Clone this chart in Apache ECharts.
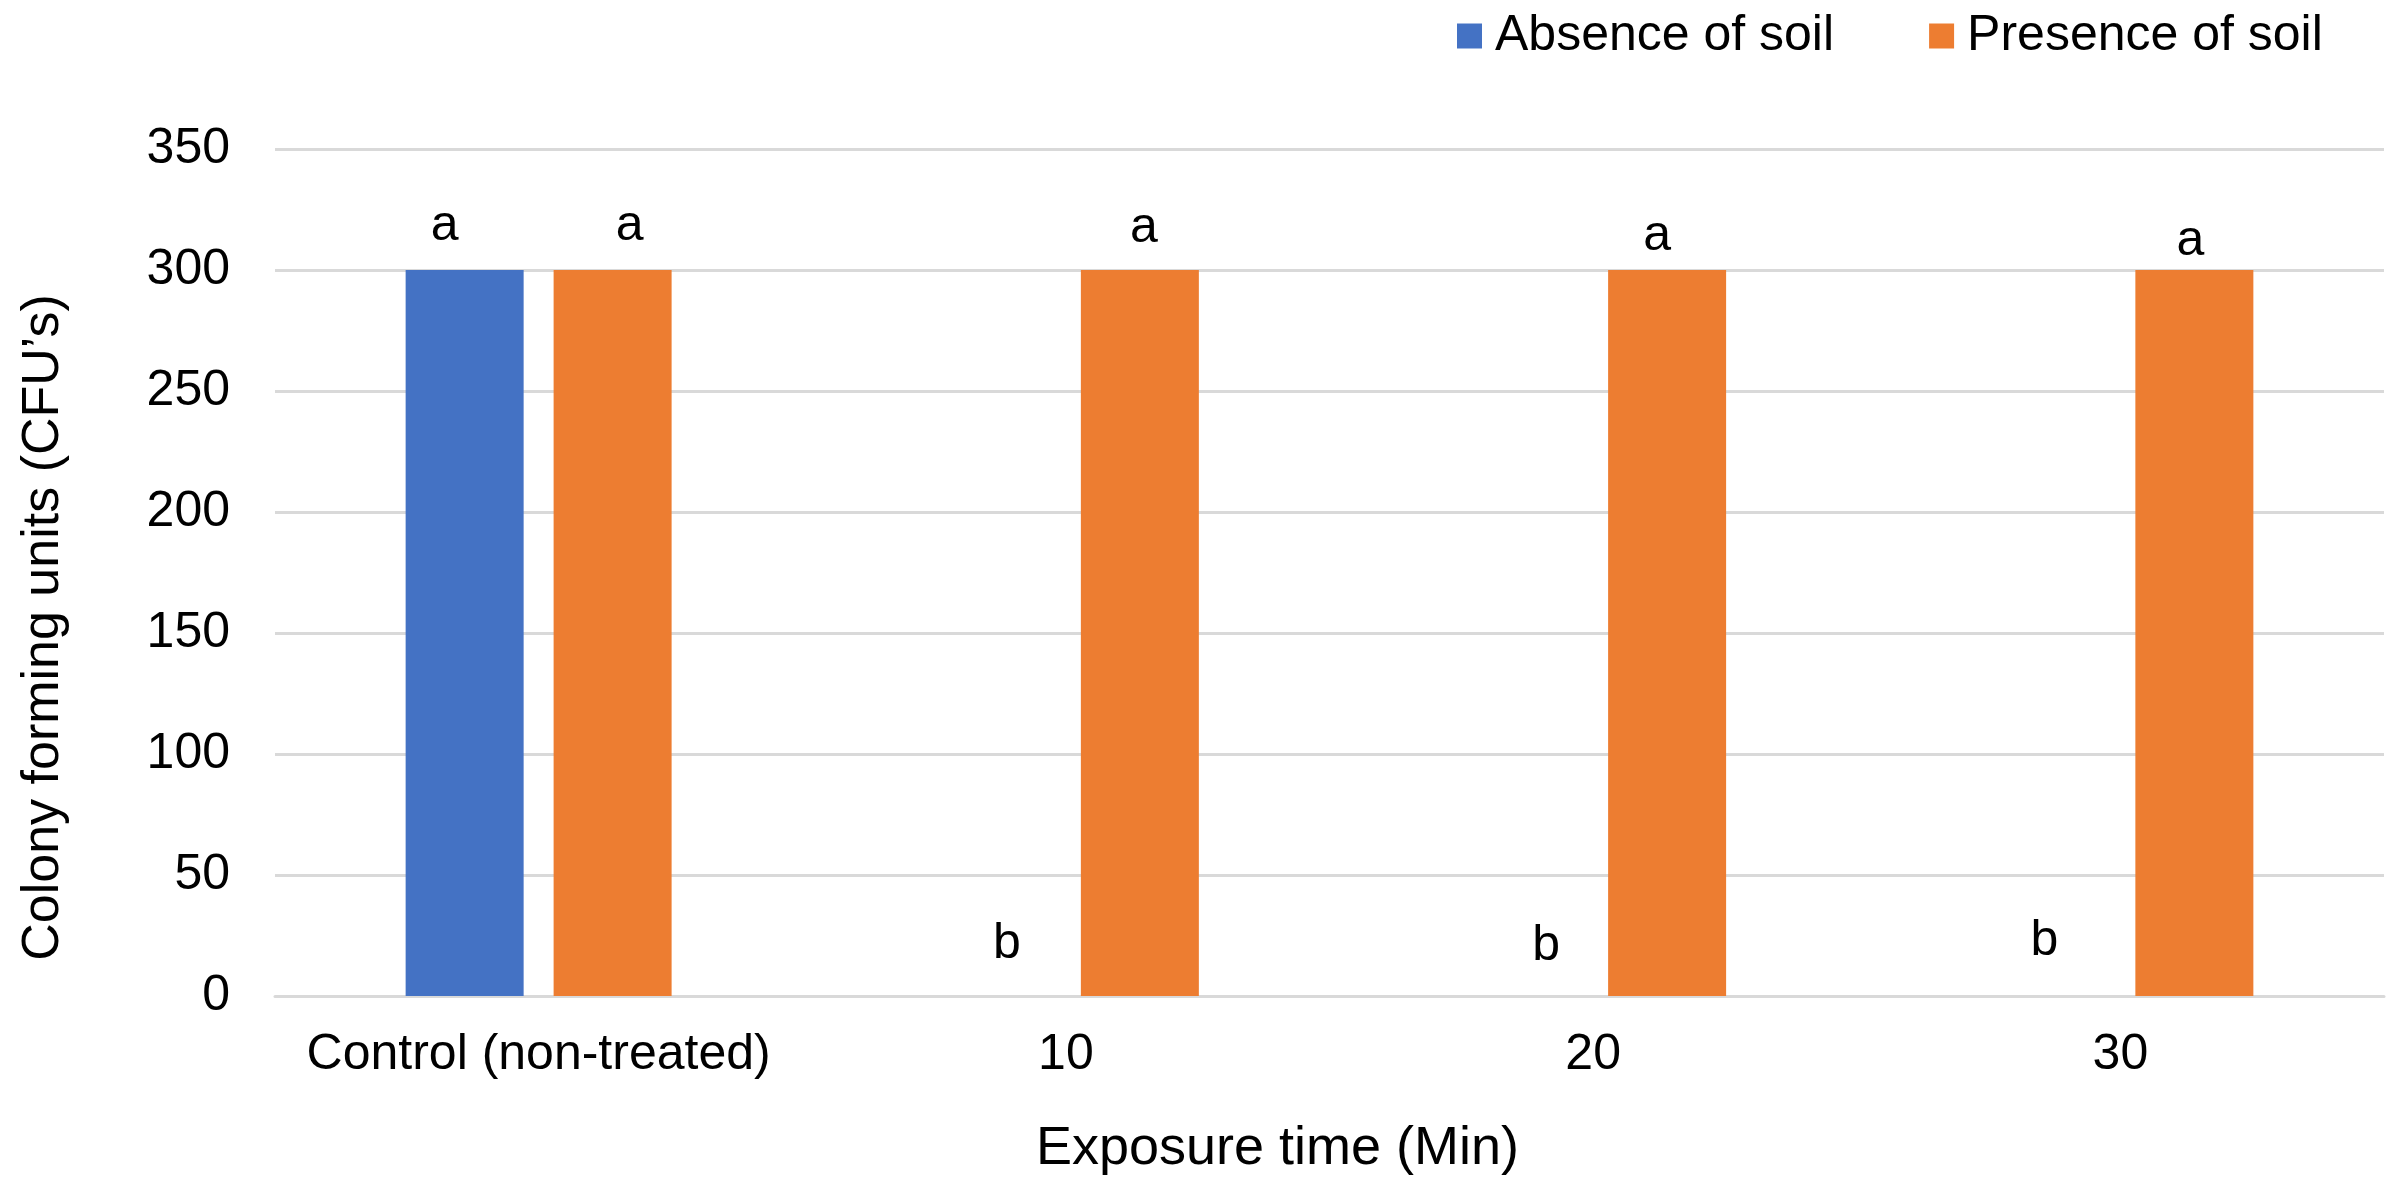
<!DOCTYPE html>
<html>
<head>
<meta charset="utf-8">
<script src="https://cdn.jsdelivr.net/npm/echarts@6/dist/echarts.min.js"></script>
<style>
html,body{margin:0;padding:0;background:#fff;}
#chart{width:2406px;height:1200px;}
</style>
</head>
<body>
<div id="chart"></div>
<script>
// ---- data ----
const categories = ['Control (non-treated)', '10', '20', '30'];
const seriesNames = ['Absence of soil', 'Presence of soil'];
const absenceValues = [300, 0, 0, 0];
const presenceValues = [300, 300, 300, 300];
const absenceLetters = ['a', 'b', 'b', 'b'];
const presenceLetters = ['a', 'a', 'a', 'a'];
const yTicks = [0, 50, 100, 150, 200, 250, 300, 350];

// ---- presentation ----
const FONT = '"Liberation Sans", Arial, Helvetica, sans-serif';
const absenceLabelOffsets = [[-20, -14], [15, -22], [27, -20], [-2, -25]];
const presenceLabelOffsets = [[17, -14], [4, -12], [-10, -4], [-4, 1]];

function makeData(values, letters, offsets) {
  return values.map((v, i) => ({
    value: v,
    label: { formatter: letters[i], offset: offsets[i] }
  }));
}

const labelStyle = {
  show: true,
  position: 'top',
  distance: 5,
  fontFamily: FONT,
  fontSize: 50,
  color: '#000'
};

const chart = echarts.init(document.getElementById('chart'), null, { renderer: 'canvas' });
chart.setOption({
  animation: false,
  backgroundColor: '#ffffff',
  legend: {
    data: seriesNames,
    left: 1457,
    top: 11,
    padding: 0,
    itemWidth: 25,
    itemHeight: 25,
    itemGap: 95,
    icon: 'rect',
    textStyle: { fontFamily: FONT, fontSize: 50, color: '#000', padding: [0, 0, 0, 8] }
  },
  grid: { left: 275, right: 22, top: 149, bottom: 204, containLabel: false },
  xAxis: {
    type: 'category',
    data: categories,
    name: 'Exposure time (Min)',
    nameLocation: 'middle',
    nameGap: 126,
    nameTextStyle: { fontFamily: FONT, fontSize: 54, color: '#000', padding: [0, 104, 0, 0] },
    axisLine: { show: true, lineStyle: { color: '#d9d9d9', width: 3 } },
    axisTick: { show: false },
    axisLabel: { interval: 0, margin: 34, fontFamily: FONT, fontSize: 50, color: '#000' },
    splitLine: { show: false }
  },
  yAxis: {
    type: 'value',
    min: yTicks[0],
    max: yTicks[yTicks.length - 1],
    interval: yTicks[1] - yTicks[0],
    name: "Colony forming units (CFU\u2019s)",
    nameLocation: 'middle',
    nameGap: 205,
    nameTextStyle: { fontFamily: FONT, fontSize: 52, color: '#000', padding: [0, 110, 0, 0] },
    axisLine: { show: false },
    axisTick: { show: false },
    axisLabel: { margin: 45, fontFamily: FONT, fontSize: 50, color: '#000' },
    splitLine: { show: true, lineStyle: { color: '#d9d9d9', width: 3 } }
  },
  series: [
    {
      name: seriesNames[0],
      type: 'bar',
      barWidth: 118,
      barGap: '25.4%',
      itemStyle: { color: '#4472C4' },
      label: labelStyle,
      data: makeData(absenceValues, absenceLetters, absenceLabelOffsets)
    },
    {
      name: seriesNames[1],
      type: 'bar',
      barWidth: 118,
      barGap: '25.4%',
      itemStyle: { color: '#ED7D31' },
      label: labelStyle,
      data: makeData(presenceValues, presenceLetters, presenceLabelOffsets)
    }
  ]
});
</script>
</body>
</html>
